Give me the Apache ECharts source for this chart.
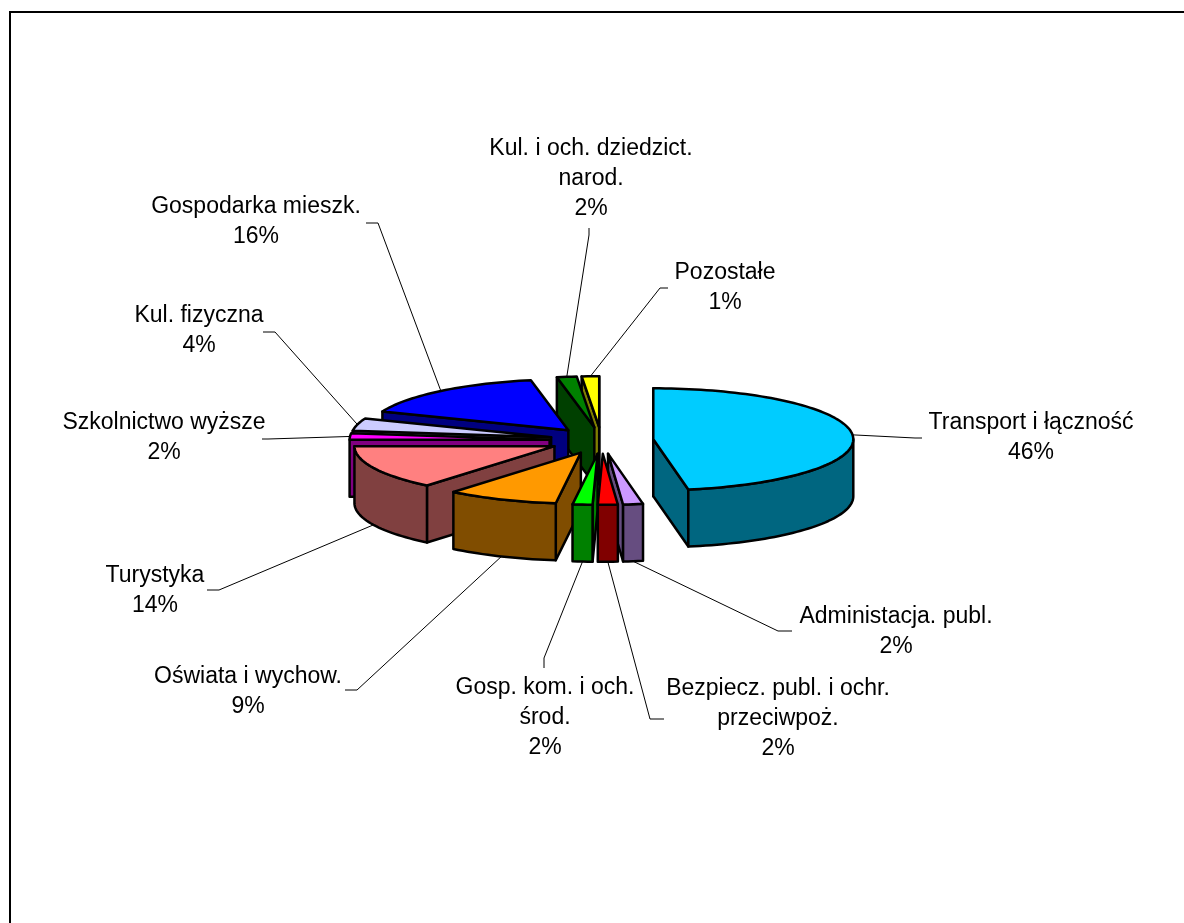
<!DOCTYPE html>
<html>
<head>
<meta charset="utf-8">
<style>
html, body { margin: 0; padding: 0; background: #fff; }
#chart { width: 1184px; height: 923px; }
</style>
<script src="https://cdn.jsdelivr.net/npm/echarts@6/dist/echarts.min.js"></script>
</head>
<body>
<div id="chart"></div>
<script>
// slices, clockwise from 12 o'clock
var categories = ['Transport i łączność', 'Administacja. publ.', 'Bezpiecz. publ. i ochr.\nprzeciwpoż.',
    'Gosp. kom. i och.\nśrod.', 'Oświata i wychow.', 'Turystyka', 'Szkolnictwo wyższe',
    'Kul. fizyczna', 'Gospodarka mieszk.', 'Kul. i och. dziedzict.\nnarod.', 'Pozostałe'];
var values = [47.2, 1.6, 1.6, 1.6, 9, 14, 2, 4, 16, 1.6, 1.4];
// percentages as printed on the labels
var percentLabels = ['46%', '2%', '2%', '2%', '9%', '14%', '2%', '4%', '16%', '2%', '1%'];
var topColors = ['#00CCFF', '#CC99FF', '#FF0000', '#00FF00', '#FF9900', '#FF8080', '#FF00FF', '#CCCCFF', '#0000FF', '#008000', '#FFFF00'];
var sideColors = ['#006680', '#664D80', '#800000', '#008000', '#804D00', '#804040', '#800080', '#666680', '#000080', '#004000', '#808000'];

// layout of the fake 3D pie
var pie = {cx: 601.5, cy: 440.5, radius: 200, tilt: 0.255, explode: 52, depth: 57};
// label centre and leader bend/end, one row per slice
var labelBoxes = [
    {x: 1031, y: 438, bend: [915, 438], end: [922, 438]},
    {x: 896, y: 632, bend: [778, 631], end: [792, 631]},
    {x: 778, y: 719, bend: [650, 719], end: [664, 719]},
    {x: 545, y: 718, bend: [544, 658], end: [544, 668]},
    {x: 248, y: 692, bend: [357, 690], end: [345, 690]},
    {x: 155, y: 591, bend: [219, 590], end: [207, 590]},
    {x: 164, y: 438, bend: [268, 439], end: [262, 439]},
    {x: 199, y: 331, bend: [275, 332], end: [263, 332]},
    {x: 256, y: 222, bend: [378, 223], end: [366, 223]},
    {x: 591, y: 179, bend: [589, 235], end: [589, 228]},
    {x: 725, y: 288, bend: [660, 288], end: [668, 288]}
];

var total = values.reduce(function (a, b) { return a + b; }, 0);
var slices = [];
var acc = 0;
for (var i = 0; i < values.length; i++) {
    var a = acc / total * 2 * Math.PI;
    acc += values[i];
    var b = acc / total * 2 * Math.PI;
    slices.push({index: i, a: a, b: b, mid: (a + b) / 2});
}
// back slices get painted first
var paintOrder = slices.slice().sort(function (p, q) {
    return Math.cos(q.mid) - Math.cos(p.mid);
});

function apexOf(s) {
    return [pie.cx + pie.explode * Math.sin(s.mid), pie.cy - pie.explode * Math.cos(s.mid) * pie.tilt];
}
function rimPoint(s, angle) {
    var o = apexOf(s);
    return [o[0] + pie.radius * Math.sin(angle), o[1] - pie.radius * Math.cos(angle) * pie.tilt];
}
function down(p) {
    return [p[0], p[1] + pie.depth];
}
function arcPoints(s, from, to) {
    var pts = [];
    var n = Math.max(2, Math.ceil((to - from) / 0.03));
    for (var k = 0; k <= n; k++) {
        pts.push(rimPoint(s, from + (to - from) * k / n));
    }
    return pts;
}
function face(points, fill) {
    return {
        type: 'polygon',
        shape: {points: points},
        style: {fill: fill, stroke: '#000', lineWidth: 2.5, lineJoin: 'round'}
    };
}

function renderSlice(params, api) {
    var s = paintOrder[params.dataIndex];
    var side = sideColors[s.index];
    var apex = apexOf(s);
    var children = [];
    // radial walls that face the viewer
    if (Math.sin(s.a) < 0.001) {
        var pa = rimPoint(s, s.a);
        children.push(face([apex, pa, down(pa), down(apex)], side));
    }
    if (Math.sin(s.b) > -0.001) {
        var pb = rimPoint(s, s.b);
        children.push(face([apex, pb, down(pb), down(apex)], side));
    }
    // curved wall, front half only
    var from = Math.max(s.a, Math.PI / 2);
    var to = Math.min(s.b, Math.PI * 1.5);
    if (to > from) {
        var wall = arcPoints(s, from, to);
        children.push(face(wall.concat(wall.slice().reverse().map(down)), side));
    }
    // top
    children.push(face([apex].concat(arcPoints(s, s.a, s.b)), topColors[s.index]));
    return {type: 'group', children: children};
}

function renderLabel(params, api) {
    var i = params.dataIndex;
    var s = slices[i];
    var box = labelBoxes[i];
    var start = rimPoint(s, s.mid);
    if (Math.cos(s.mid) < 0 && Math.abs(Math.sin(s.mid)) < 0.95) {
        start = down(start);
    }
    return {
        type: 'group',
        children: [{
            type: 'polyline',
            shape: {points: [start, box.bend, box.end]},
            style: {fill: null, stroke: '#000', lineWidth: 1}
        }, {
            type: 'text',
            x: box.x,
            y: box.y,
            style: {
                text: categories[i] + '\n' + percentLabels[i],
                fill: '#000',
                font: '23px "Liberation Sans", Arial, sans-serif',
                lineHeight: 30,
                align: 'center',
                verticalAlign: 'middle'
            }
        }]
    };
}

var chart = echarts.init(document.getElementById('chart'));
chart.setOption({
    backgroundColor: '#fff',
    animation: false,
    graphic: [{
        type: 'polyline',
        shape: {points: [[10, 1000], [10, 12], [1300, 12]]},
        style: {fill: null, stroke: '#000', lineWidth: 2}
    }],
    series: [{
        type: 'custom',
        coordinateSystem: 'none',
        silent: true,
        data: paintOrder.map(function (s) { return values[s.index]; }),
        renderItem: renderSlice
    }, {
        type: 'custom',
        coordinateSystem: 'none',
        silent: true,
        data: categories,
        renderItem: renderLabel
    }]
});
</script>
</body>
</html>
